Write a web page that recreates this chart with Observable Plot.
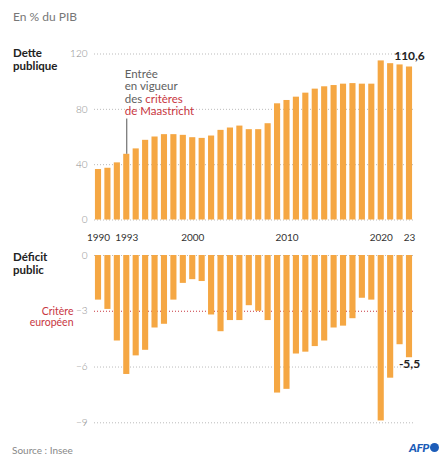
<!DOCTYPE html>
<html>
<head>
<meta charset="utf-8">
<script src="https://cdn.jsdelivr.net/npm/d3@7"></script>
<script src="https://cdn.jsdelivr.net/npm/@observablehq/plot@0.6"></script>
<style>
  html, body { margin: 0; padding: 0; background: #fff; }
  #wrap { position: relative; width: 441px; height: 456px; overflow: hidden; font-family: Lato, sans-serif; }
  .abs { position: absolute; }
  .sec { font-weight: 700; font-size: 11.5px; line-height: 12px; color: #222; left: 13px; }
</style>
</head>
<body>
<div id="wrap">
  <div class="abs" style="left:13px; top:9px; font-size:12px; color:#777;">En % du PIB</div>
  <div class="abs sec" style="top:47px;">Dette</div>
  <div class="abs sec" style="top:59.5px;">publique</div>
  <div class="abs sec" style="top:251px;">Déficit</div>
  <div class="abs sec" style="top:263.5px;">public</div>
  <div id="topChart" class="abs" style="left:0; top:40px;"></div>
  <div id="botChart" class="abs" style="left:0; top:245px;"></div>
  <div class="abs" style="left:12px; top:444px; font-size:10px; color:#888;">Source : Insee</div>
  <div class="abs" style="left:409px; top:440px; display:flex; align-items:center;">
    <span style="font-weight:900; font-style:italic; font-size:12px; color:#1c5cb8; letter-spacing:-0.5px;">AFP</span>
    <span style="display:inline-block; width:9px; height:9px; border-radius:50%; background:#1c5cb8; margin-left:1px;"></span>
  </div>
</div>
<script>
const years = [1990,1991,1992,1993,1994,1995,1996,1997,1998,1999,2000,2001,2002,2003,2004,2005,2006,2007,2008,2009,2010,2011,2012,2013,2014,2015,2016,2017,2018,2019,2020,2021,2022,2023];
const debt = [36.5,37.4,41.3,47.5,51.4,57.6,60.0,61.7,61.7,61.2,59.5,59.0,60.7,64.8,66.5,67.9,65.3,65.3,69.6,84.0,86.4,88.8,91.7,94.6,96.3,97.2,98.2,98.6,98.2,98.2,115.0,113.0,112.1,110.6];
const deficit = [-2.4,-2.9,-4.6,-6.4,-5.4,-5.1,-3.9,-3.7,-2.4,-1.5,-1.3,-1.4,-3.2,-4.1,-3.5,-3.5,-2.7,-3.0,-3.5,-7.4,-7.2,-5.3,-5.2,-4.9,-4.6,-3.9,-3.8,-3.4,-2.3,-2.4,-8.9,-6.6,-4.8,-5.5];
const xTickLabels = [1990, 1993, 2000, 2010, 2020, 2023];
const debtTicks = [0, 40, 80, 120];
const deficitTicks = [0, -3, -6, -9];
const euroCriterion = -3;
const maastrichtYear = 1993;

const orange = "#f5a743";
const red = "#c8373f";
const grid = "#bbbbbb";
const debtRows = years.map((y, i) => ({year: y, value: debt[i]}));
const defRows = years.map((y, i) => ({year: y, value: deficit[i]}));
const fmt = v => String(v).replace(".", ",");
const lastYear = years[years.length - 1];

const common = {
  width: 441,
  marginLeft: 94,
  marginRight: 28,
  style: {fontFamily: "Lato, sans-serif", fontSize: "10px", color: "#8a8a8a", background: "transparent"},
};
const xOpts = {type: "band", domain: years, paddingInner: 0.35, paddingOuter: 0.1, align: 0.5, round: false};

const debtChart = Plot.plot({
  ...common,
  height: 205,
  marginTop: 13.5,
  marginBottom: 25.5,
  x: {...xOpts, axis: null, label: null},
  y: {domain: [0, 120], axis: null, label: null},
  marks: [
    Plot.ruleY(debtTicks, {stroke: grid, strokeDasharray: "1,2", strokeWidth: 1}),
    Plot.barY(debtRows, {x: "year", y1: 0, y2: "value", fill: orange}),
    Plot.axisY(debtTicks, {tickSize: 0, tickPadding: 7, fill: "#8a8a8a", fontWeight: 300, label: null}),
    Plot.axisX(xTickLabels, {tickSize: 0, tickPadding: 13.4, fill: "#333", fontWeight: 400, label: null,
      tickFormat: d => d === lastYear ? String(d).slice(2) : String(d)}),
    Plot.ruleX([{year: maastrichtYear, y1: 73, y2: debt[years.indexOf(maastrichtYear)]}], {x: "year", y1: "y1", y2: "y2", stroke: "#555", strokeWidth: 1}),
    Plot.text([{year: maastrichtYear, y: 92.1}], {x: "year", y: "y", text: () => "Entrée\nen vigueur\ndes critères\nde Maastricht",
      textAnchor: "start", dx: -2, lineAnchor: "middle", lineHeight: 1.08, fontSize: 11.5, fill: "#606060", fontWeight: 400}),
    Plot.text(debtRows.filter(d => d.year === lastYear), {x: "year", y: "value", text: d => fmt(d.value),
      dy: -7, lineAnchor: "bottom", fontWeight: 700, fontSize: 12, fill: "#222"})
  ]
});

const deficitChart = Plot.plot({
  ...common,
  height: 190,
  marginTop: 10,
  marginBottom: 12.7,
  x: {...xOpts, axis: null, label: null},
  y: {domain: [-9, 0], axis: null, label: null},
  marks: [
    Plot.ruleY(deficitTicks.filter(t => t !== euroCriterion), {stroke: grid, strokeDasharray: "1,2", strokeWidth: 1}),
    Plot.ruleY([euroCriterion], {stroke: red, strokeDasharray: "1,2", strokeWidth: 1.2}),
    Plot.barY(defRows, {x: "year", y1: 0, y2: "value", fill: orange}),
    Plot.axisY(deficitTicks, {tickSize: 0, tickPadding: 7, fill: "#8a8a8a", fontWeight: 300, label: null}),
    Plot.text([euroCriterion], {y: d => d, frameAnchor: "left", dx: -21, dy: -4, textAnchor: "end", lineAnchor: "top",
      text: () => "Critère\neuropéen", fill: red, fontSize: 10.5, lineHeight: 1.05}),
    Plot.text(defRows.filter(d => d.year === lastYear), {x: "year", y: "value", text: d => fmt(d.value),
      dy: 2, lineAnchor: "top", fontWeight: 700, fontSize: 12, fill: "#222"})
  ]
});

// colour part of the Maastricht annotation in red
d3.select(debtChart).selectAll("text tspan").each(function() {
  const t = this.textContent;
  if (t === "des critères") {
    this.textContent = "des ";
    d3.select(this).append("tspan").attr("fill", red).text("critères");
  } else if (t === "de Maastricht") {
    d3.select(this).attr("fill", red);
  }
});

document.getElementById("topChart").appendChild(debtChart);
document.getElementById("botChart").appendChild(deficitChart);
</script>
</body>
</html>
